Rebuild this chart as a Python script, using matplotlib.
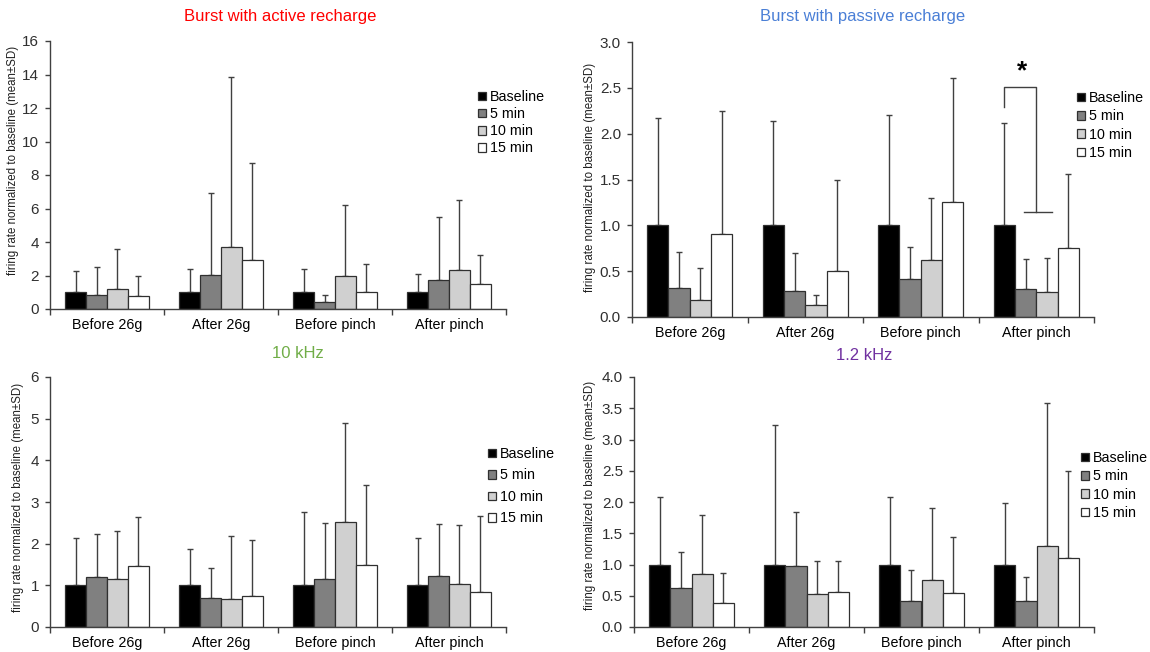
import numpy as np
import matplotlib
matplotlib.use("Agg")
import matplotlib.pyplot as plt

plt.rcParams["font.family"] = ["Liberation Sans", "DejaVu Sans"]

# ---- data ----
groups = ["Before 26g", "After 26g", "Before pinch", "After pinch"]
series = ["Baseline", "5 min", "10 min", "15 min"]
bar_colors = ["#000000", "#808080", "#d0d0d0", "#ffffff"]

# Burst with active recharge
active_mean = {
    "Baseline": [1.0, 1.0, 1.0, 1.0],
    "5 min": [0.85, 2.03, 0.44, 1.71],
    "10 min": [1.19, 3.72, 1.99, 2.31],
    "15 min": [0.78, 2.92, 1.01, 1.47],
}
active_sd = {
    "Baseline": [1.25, 1.39, 1.39, 1.09],
    "5 min": [1.65, 4.91, 0.41, 3.80],
    "10 min": [2.39, 10.12, 4.21, 4.17],
    "15 min": [1.21, 5.79, 1.67, 1.75],
}

# Burst with passive recharge
passive_mean = {
    "Baseline": [1.0, 1.0, 1.0, 1.0],
    "5 min": [0.32, 0.28, 0.41, 0.31],
    "10 min": [0.19, 0.13, 0.62, 0.27],
    "15 min": [0.91, 0.50, 1.25, 0.75],
}
passive_sd = {
    "Baseline": [1.17, 1.14, 1.20, 1.12],
    "5 min": [0.39, 0.42, 0.35, 0.32],
    "10 min": [0.34, 0.11, 0.68, 0.37],
    "15 min": [1.34, 0.99, 1.36, 0.81],
}

# 10 kHz
khz10_mean = {
    "Baseline": [1.0, 1.0, 1.0, 1.0],
    "5 min": [1.20, 0.70, 1.16, 1.22],
    "10 min": [1.16, 0.68, 2.53, 1.03],
    "15 min": [1.46, 0.74, 1.49, 0.85],
}
khz10_sd = {
    "Baseline": [1.14, 0.88, 1.75, 1.14],
    "5 min": [1.03, 0.72, 1.34, 1.26],
    "10 min": [1.15, 1.50, 2.36, 1.42],
    "15 min": [1.18, 1.36, 1.93, 1.82],
}

# 1.2 kHz
khz12_mean = {
    "Baseline": [1.0, 1.0, 1.0, 1.0],
    "5 min": [0.63, 0.98, 0.41, 0.42],
    "10 min": [0.85, 0.53, 0.76, 1.30],
    "15 min": [0.39, 0.56, 0.55, 1.10],
}
khz12_sd = {
    "Baseline": [1.08, 2.24, 1.08, 0.98],
    "5 min": [0.57, 0.86, 0.51, 0.38],
    "10 min": [0.94, 0.52, 1.14, 2.28],
    "15 min": [0.47, 0.49, 0.89, 1.40],
}

# significance bracket in the passive panel (After pinch): y levels
sig_top = 2.51
sig_left_low = 2.29
sig_right_low = 1.145
sig_star_y = 2.68

W, H = 1150, 652
fig = plt.figure(figsize=(W / 100, H / 100), dpi=100)


def px_axes(left, top, right, bottom):
    return [left / W, 1 - bottom / H, (right - left) / W, (bottom - top) / H]


ylabel_text = "firing rate normalized to baseline (mean\u00b1SD)"
bar_w = 0.184
edge = "#303030"


def draw_panel(rect, means, sds, ymax, ystep, fmt, title, tcolor, tpos,
               ylpos, legpos, legspace):
    ax = fig.add_axes(px_axes(*rect))
    x = np.arange(len(groups))
    for i, s in enumerate(series):
        xs = x + (i - 1.5) * bar_w
        ax.bar(xs, means[s], bar_w, color=bar_colors[i], edgecolor=edge,
               linewidth=0.9, label=s, zorder=2)
        ax.errorbar(xs, means[s], yerr=[np.zeros(len(groups)), sds[s]],
                    fmt="none", ecolor="#404040", elinewidth=1.0,
                    capsize=2.5, capthick=1.0, zorder=1)
    ax.set_xlim(-0.5, len(groups) - 0.5)
    ax.set_ylim(0, ymax)
    ticks = np.arange(0, ymax + ystep / 2, ystep)
    ax.set_yticks(ticks)
    ax.set_yticklabels([fmt.format(t) for t in ticks])
    ax.set_xticks(x)
    ax.set_xticklabels(groups)
    ax.set_xticks(np.arange(-0.5, len(groups)), minor=True)
    ax.tick_params(axis="x", which="major", length=0, pad=6.5, labelsize=10.3)
    ax.tick_params(axis="x", which="minor", length=4.5, width=1.0,
                   direction="out", color="#404040")
    ax.tick_params(axis="y", length=3.5, width=1.0, direction="out",
                   color="#404040", pad=4.5, labelsize=11,
                   labelcolor="#303030")
    for sp in ["top", "right"]:
        ax.spines[sp].set_visible(False)
    for sp in ["left", "bottom"]:
        ax.spines[sp].set_color("#404040")
        ax.spines[sp].set_linewidth(1.0)
    fig.text(tpos[0] / W, 1 - tpos[1] / H, title, color=tcolor, fontsize=12,
             ha="center", va="center")
    fig.text(ylpos[0] / W, 1 - ylpos[1] / H, ylabel_text, rotation=90,
             fontsize=8.3, ha="center", va="center", color="#202020")
    ax.legend(loc="upper left",
              bbox_to_anchor=(legpos[0] / W, 1 - (legpos[1] - 8) / H),
              bbox_transform=fig.transFigure, frameon=False, fontsize=10.3,
              borderpad=0, borderaxespad=0, handlelength=0.55,
              handleheight=0.55, handletextpad=0.3, labelspacing=legspace)
    return ax


draw_panel((50, 41, 506, 309), active_mean, active_sd, 16, 2, "{:.0f}",
           "Burst with active recharge", "#ff0000", (280, 17), (13, 160),
           (478, 98), 0.22)
ax2 = draw_panel((632, 42, 1094, 317), passive_mean, passive_sd, 3.0, 0.5,
                 "{:.1f}", "Burst with passive recharge", "#4a7fd6",
                 (863, 17), (590, 177), (1077, 99), 0.3)
draw_panel((50, 377, 506, 627), khz10_mean, khz10_sd, 6, 1, "{:.0f}",
           "10 kHz", "#70ad47", (298, 353), (18, 497), (488, 455), 0.52)
draw_panel((634, 377, 1094, 627), khz12_mean, khz12_sd, 4.0, 0.5, "{:.1f}",
           "1.2 kHz", "#7030a0", (864, 356), (590, 495), (1081, 459), 0.3)

# significance bracket: baseline vs 5/10 min at "After pinch"
g = 3
xl = g - 1.5 * bar_w
xr = g
ax2.plot([xl, xl, xr, xr], [sig_left_low, sig_top, sig_top, sig_right_low],
         color="#404040", lw=1.0, zorder=3)
ax2.plot([g - 0.11, g + 0.14], [sig_right_low, sig_right_low],
         color="#404040", lw=1.0, zorder=3)
ax2.text(g - 0.12, sig_star_y, "*", fontsize=19, fontweight="bold",
         ha="center", va="center")

fig.savefig("out.png", dpi=100)
